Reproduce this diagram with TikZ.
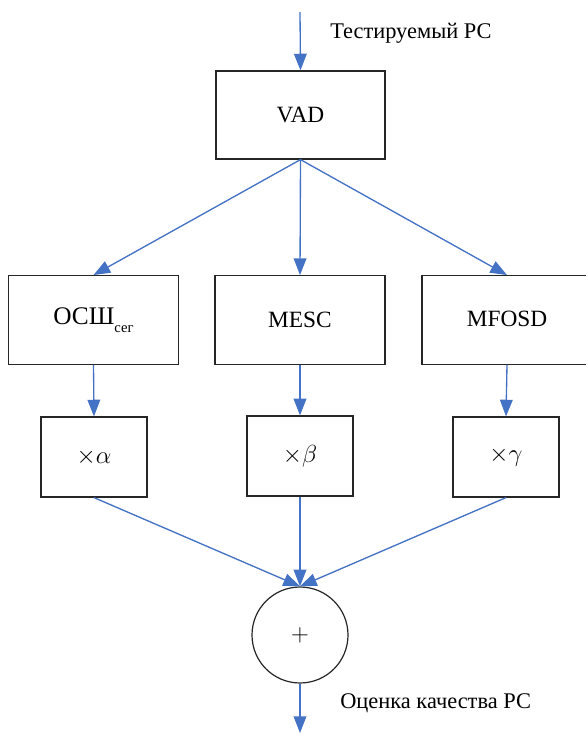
\RequirePackage{fix-cm}
\documentclass[tikz,border=0pt]{standalone}
\usepackage{fontspec}
\setmainfont{Liberation Serif}
\usetikzlibrary{arrows.meta}
\definecolor{arrowblue}{HTML}{4472C4}
\begin{document}
\begin{tikzpicture}[x=0.75pt,y=-0.75pt,
  box/.style={draw=black!85, line width=0.9pt, rectangle, inner sep=0pt, font=\fontsize{17.5}{21}\selectfont},
  bigbox/.style={box, minimum width=127.5pt, minimum height=66.5pt},
  smallbox/.style={box, minimum width=79.5pt, minimum height=60pt, font=\fontsize{18.5}{22}\selectfont},
  conn/.style={draw=arrowblue, line width=1pt, -{Triangle[length=12.5pt,width=9.5pt]}},
  lbl/.style={font=\fontsize{16.8}{20}\selectfont, anchor=west, inner sep=0pt}]
\useasboundingbox (0,0) rectangle (586,733);
\node[box, minimum width=126.75pt, minimum height=66pt] (vad) at (300.5,115) {VAD};
\node[bigbox] (osh) at (93.5,320) {\fontsize{19}{22}\selectfont ОСШ\raisebox{-6pt}{\fontsize{11}{12}\selectfont сег}};
\node[bigbox] (mesc) at (300,320) {MESC};
\node[bigbox] (mfosd) at (507,320) {\raisebox{2pt}{MFOSD}};
\node[smallbox] (xa) at (94,457) {$\times\alpha$};
\node[smallbox] (xb) at (300,456) {$\times\beta$};
\node[smallbox] (xg) at (506,457) {$\times\gamma$};
\node[circle, draw=black!85, line width=0.9pt, minimum size=72pt, inner sep=0pt, font=\fontsize{18.5}{22}\selectfont] (sum) at (300,635) {$+$};
\coordinate (in) at (300,12);
\coordinate (out) at (300,733);
\node[lbl] (lin) at (330,33) {Тестируемый РС};
\node[lbl] (lout) at (340,703) {Оценка качества РС};
\draw[conn] (in) -- (vad.north);
\draw[conn] (vad.south) -- (osh.north);
\draw[conn] (vad.south) -- (mesc.north);
\draw[conn] (vad.south) -- (mfosd.north);
\draw[conn] (osh.south) -- (xa.north);
\draw[conn] (mesc.south) -- (xb.north);
\draw[conn] (mfosd.south) -- (xg.north);
\draw[conn] (xa.south) -- (sum.north);
\draw[conn] (xb.south) -- (sum.north);
\draw[conn] (xg.south) -- (sum.north);
\draw[conn] (sum.south) -- (out);
\end{tikzpicture}
\end{document}
